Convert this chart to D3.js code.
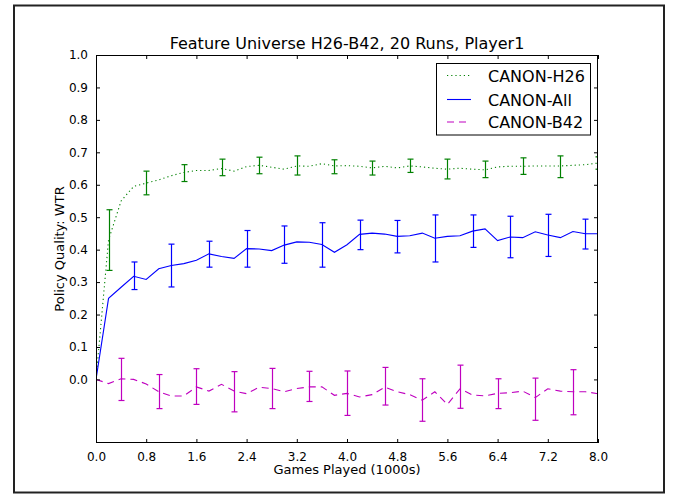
<!DOCTYPE html>
<html>
<head>
<meta charset="utf-8">
<script src="https://cdn.jsdelivr.net/npm/d3@7"></script>
<style>
  html, body { margin: 0; padding: 0; background: #fff; }
  svg { display: block; font-family: "DejaVu Sans", sans-serif; }
</style>
</head>
<body>
<svg id="chart" width="679" height="494"></svg>
<script>
// ---------- data ----------
const games = [0.0,0.2,0.4,0.6,0.8,1.0,1.2,1.4,1.6,1.8,2.0,2.2,2.4,2.6,2.8,3.0,3.2,3.4,3.6,3.8,4.0,
               4.2,4.4,4.6,4.8,5.0,5.2,5.4,5.6,5.8,6.0,6.2,6.4,6.6,6.8,7.0,7.2,7.4,7.6,7.8,8.0];

const canonH26 = [0.0,0.43,0.55,0.595,0.605,0.615,0.628,0.638,0.644,0.644,0.650,0.642,0.656,0.660,0.654,0.648,
                  0.658,0.657,0.665,0.658,0.659,0.657,0.652,0.657,0.652,0.658,0.655,0.651,0.648,0.651,0.648,
                  0.646,0.655,0.657,0.657,0.658,0.658,0.658,0.660,0.662,0.667];
const canonAll = [0.0,0.250,0.284,0.318,0.308,0.341,0.351,0.357,0.367,0.387,0.379,0.373,0.403,0.402,0.397,0.414,
                  0.424,0.423,0.416,0.392,0.415,0.447,0.451,0.448,0.441,0.443,0.451,0.435,0.441,0.443,0.457,
                  0.464,0.428,0.439,0.437,0.455,0.445,0.437,0.456,0.449,0.449];
const canonB42 = [0.0,-0.013,0.002,0.0,-0.014,-0.038,-0.051,-0.051,-0.023,-0.036,-0.015,-0.036,-0.044,-0.024,-0.028,
                  -0.038,-0.028,-0.023,-0.023,-0.049,-0.043,-0.054,-0.047,-0.024,-0.038,-0.047,-0.064,-0.038,
                  -0.077,-0.029,-0.048,-0.051,-0.043,-0.041,-0.036,-0.056,-0.029,-0.036,-0.038,-0.038,-0.044];

// error bars (x, low, high)
const h26ErrX  = [0.2,0.8,1.4,2.0,2.6,3.2,3.8,4.4,5.0,5.6,6.2,6.8,7.4,8.0];
const h26ErrLo = [0.336,0.569,0.610,0.628,0.634,0.630,0.634,0.630,0.638,0.618,0.622,0.632,0.622,0.648];
const h26ErrHi = [0.523,0.642,0.662,0.679,0.685,0.689,0.677,0.673,0.679,0.679,0.673,0.683,0.689,0.686];

const allErrX  = [0.6,1.2,1.8,2.4,3.0,3.6,4.2,4.8,5.4,6.0,6.6,7.2,7.8];
const allErrLo = [0.277,0.285,0.346,0.346,0.358,0.346,0.400,0.390,0.362,0.407,0.375,0.379,0.402];
const allErrHi = [0.362,0.417,0.426,0.459,0.473,0.483,0.491,0.490,0.507,0.507,0.503,0.509,0.494];

const b42ErrX  = [0.4,1.0,1.6,2.2,2.8,3.4,4.0,4.6,5.2,5.8,6.4,7.0,7.6];
const b42ErrLo = [-0.065,-0.090,-0.077,-0.100,-0.090,-0.068,-0.111,-0.079,-0.129,-0.089,-0.090,-0.126,-0.109];
const b42ErrHi = [0.065,0.015,0.033,0.024,0.034,0.025,0.026,0.037,0.002,0.044,0.002,0.004,0.030];

const xTickValues = [0.0,0.8,1.6,2.4,3.2,4.0,4.8,5.6,6.4,7.2,8.0];
const xTickLabels = ["0.0","0.8","1.6","2.4","3.2","4.0","4.8","5.6","6.4","7.2","8.0"];
const yTickValues = [0.0,0.1,0.2,0.3,0.4,0.5,0.6,0.7,0.8,0.9,1.0];
const yTickLabels = ["0.0","0.1","0.2","0.3","0.4","0.5","0.6","0.7","0.8","0.9","1.0"];

const seriesNames = ["CANON-H26","CANON-All","CANON-B42"];
const seriesColors = ["#008000","#0000ff","#bf00bf"];
const seriesDash = ["1.2,3","none","7,5"];

// ---------- layout ----------
const svg = d3.select("#chart");
const L = 96, R = 598, T = 55, B = 443;
const x = d3.scaleLinear().domain([0, 8]).range([L, R]);
const y = d3.scaleLinear().domain([-0.196, 1.0]).range([B, T]);

svg.append("rect").attr("width", 679).attr("height", 494).attr("fill", "#fff");
// figure border
svg.append("rect").attr("x", 14).attr("y", 5.5).attr("width", 650).attr("height", 487)
  .attr("fill", "none").attr("stroke", "#222").attr("stroke-width", 2);

svg.append("defs").append("clipPath").attr("id", "clip")
  .append("rect").attr("x", L).attr("y", T).attr("width", R - L).attr("height", B - T);

const plot = svg.append("g").attr("clip-path", "url(#clip)");

const lineGen = d3.line().x((d, i) => x(games[i])).y(d => y(d));
const allSeries = [canonH26, canonAll, canonB42];
const errs = [[h26ErrX, h26ErrLo, h26ErrHi], [allErrX, allErrLo, allErrHi], [b42ErrX, b42ErrLo, b42ErrHi]];

allSeries.forEach((s, k) => {
  plot.append("path").datum(s).attr("d", lineGen)
    .attr("fill", "none").attr("stroke", seriesColors[k]).attr("stroke-width", 1.1)
    .attr("stroke-dasharray", seriesDash[k]);
  const [ex, lo, hi] = errs[k];
  const g = plot.append("g").attr("stroke", seriesColors[k]).attr("stroke-width", 1.2).attr("fill", "none");
  ex.forEach((xv, i) => {
    const cx = Math.round(x(xv)) + 0.5;
    g.append("line").attr("x1", cx).attr("x2", cx).attr("y1", y(lo[i])).attr("y2", y(hi[i]));
    g.append("line").attr("x1", cx - 3).attr("x2", cx + 3).attr("y1", y(lo[i])).attr("y2", y(lo[i]));
    g.append("line").attr("x1", cx - 3).attr("x2", cx + 3).attr("y1", y(hi[i])).attr("y2", y(hi[i]));
  });
});

// axes frame
svg.append("rect").attr("x", L + 0.5).attr("y", T + 0.5).attr("width", R - L - 1).attr("height", B - T - 1)
  .attr("fill", "none").attr("stroke", "#000").attr("stroke-width", 1);

// axes with inward ticks
const axB = d3.axisBottom(x).tickValues(xTickValues).tickFormat((d, i) => xTickLabels[i]).tickSizeInner(-4).tickSizeOuter(0).tickPadding(9);
const axT = d3.axisTop(x).tickValues(xTickValues).tickFormat("").tickSizeInner(-4).tickSizeOuter(0);
const axL = d3.axisLeft(y).tickValues(yTickValues).tickFormat((d, i) => yTickLabels[i]).tickSizeInner(-4).tickSizeOuter(0).tickPadding(8);
const axR = d3.axisRight(y).tickValues(yTickValues).tickFormat("").tickSizeInner(-4).tickSizeOuter(0);

function style(g) {
  g.select(".domain").remove();
  g.selectAll(".tick line").attr("stroke", "#000");
  g.selectAll(".tick text").attr("fill", "#000").attr("font-size", 12).attr("font-family", "DejaVu Sans");
}
svg.append("g").attr("transform", `translate(0,${B})`).call(axB).call(style);
svg.append("g").attr("transform", `translate(0,${T})`).call(axT).call(style);
svg.append("g").attr("transform", `translate(${L},0)`).call(axL).call(style);
svg.append("g").attr("transform", `translate(${R},0)`).call(axR).call(style);

// title and labels
svg.append("text").attr("x", (L + R) / 2).attr("y", 49).attr("text-anchor", "middle")
  .attr("font-size", 16).text("Feature Universe H26-B42, 20 Runs, Player1");
svg.append("text").attr("x", (L + R) / 2).attr("y", 474).attr("text-anchor", "middle")
  .attr("font-size", 13).text("Games Played (1000s)");
svg.append("text").attr("transform", "translate(64,249) rotate(-90)").attr("text-anchor", "middle")
  .attr("font-size", 13).text("Policy Quality: WTR");

// legend
const lg = svg.append("g");
lg.append("rect").attr("x", 436.5).attr("y", 63.5).attr("width", 154).attr("height", 71.5)
  .attr("fill", "#fff").attr("stroke", "#000").attr("stroke-width", 1);
const rowLineY = [75.5, 99.5, 122];
const rowTextY = [82, 105.5, 128];
seriesNames.forEach((n, k) => {
  lg.append("line").attr("x1", 447).attr("x2", 471).attr("y1", rowLineY[k]).attr("y2", rowLineY[k])
    .attr("stroke", seriesColors[k]).attr("stroke-width", 1.1).attr("stroke-dasharray", seriesDash[k]);
  lg.append("text").attr("x", 488).attr("y", rowTextY[k]).attr("font-size", 16).text(n);
});
</script>
</body>
</html>
